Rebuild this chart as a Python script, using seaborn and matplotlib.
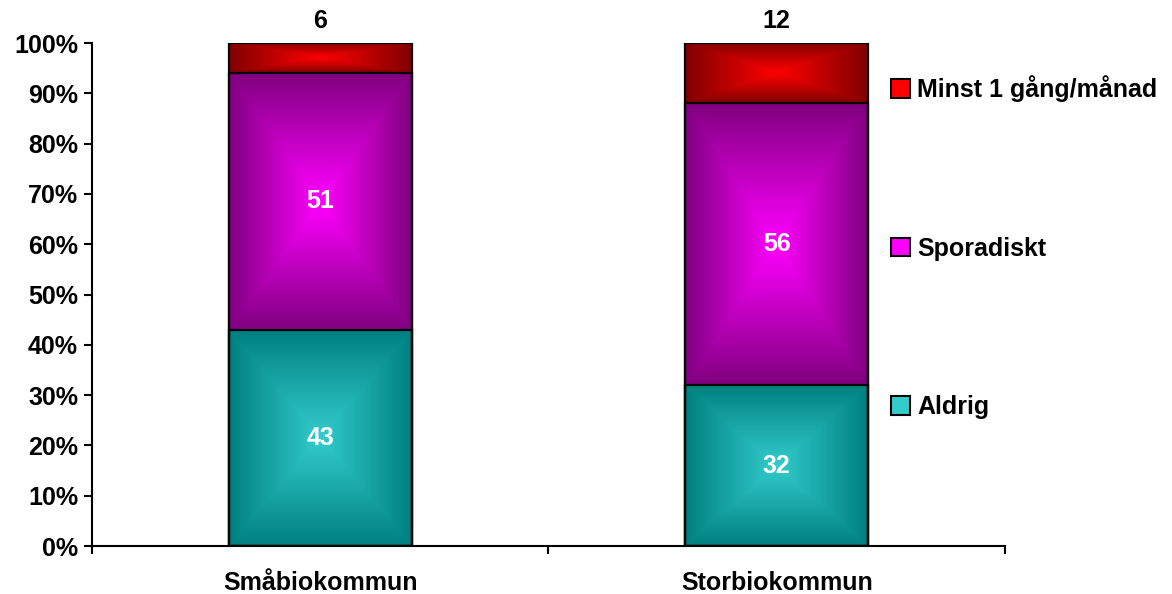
import numpy as np
import matplotlib
matplotlib.use('Agg')
import matplotlib.pyplot as plt
import seaborn as sns
from matplotlib.colors import to_rgb
from matplotlib.patches import Patch
from matplotlib.ticker import PercentFormatter

# Data
kommuner = ['Småbiokommun', 'Storbiokommun']
serier = ['Aldrig', 'Sporadiskt', 'Minst 1 gång/månad']
aldrig = [43, 32]
sporadiskt = [51, 56]
minst = [6, 12]

ljus = ['#33CCCC', '#FF00FF', '#FF0000']
mork = ['#008080', '#800080', '#800000']

sns.set_theme(style='white')
plt.rcParams['font.family'] = ['Liberation Sans', 'DejaVu Sans']
plt.rcParams['font.weight'] = 'bold'
plt.rcParams['text.color'] = 'black'
plt.rcParams['xtick.color'] = 'black'
plt.rcParams['ytick.color'] = 'black'


def gradient(c_mitt, c_kant, n=300):
    u = np.linspace(-1, 1, n)
    U, V = np.meshgrid(u, u)
    t = np.maximum(np.abs(U), np.abs(V))
    a = np.array(to_rgb(c_mitt))
    b = np.array(to_rgb(c_kant))
    return a + (b - a) * t[..., None]


fig = plt.figure(figsize=(11.72, 5.94), dpi=100)
ax = fig.add_axes([0.0785, 0.0808, 0.779, 0.8468])

varden = [aldrig, sporadiskt, minst]
kum = np.cumsum(np.array(varden), axis=0)
botten = np.vstack([np.zeros(len(kommuner)), kum[:-1]])

# staplade staplar: ritar kumulativa summor, störst först
for i in reversed(range(len(serier))):
    n_fore = len(ax.patches)
    sns.barplot(x=kommuner, y=kum[i], color=mork[i], saturation=1, width=0.4,
                edgecolor='black', linewidth=1.6, ax=ax)
    for j, p in enumerate(ax.patches[n_fore:]):
        p.set_facecolor('none')
        p.set_zorder(3)
        x0 = p.get_x()
        x1 = x0 + p.get_width()
        ax.imshow(gradient(ljus[i], mork[i]), extent=(x0, x1, botten[i][j], kum[i][j]),
                  aspect='auto', zorder=2, interpolation='bilinear')

ax.set_xlim(-0.5, 1.5)
ax.set_ylim(0, 100)

# etiketter
for j in range(len(kommuner)):
    for i in range(2):
        ax.text(j, botten[i][j] + varden[i][j] / 2, str(varden[i][j]), color='white',
                ha='center', va='center', fontsize=18, fontweight='bold', zorder=4)
    ax.text(j, 102, str(minst[j]), color='black', ha='center', va='bottom',
            fontsize=18, fontweight='bold', clip_on=False)

ax.yaxis.set_major_formatter(PercentFormatter(decimals=0))
ax.set_yticks(range(0, 101, 10))
ax.tick_params(axis='y', which='major', direction='out', length=6, width=1.5,
               labelsize=18, pad=4, left=True)
ax.set_xticks([-0.5, 0.5, 1.5], minor=True)
ax.tick_params(axis='x', which='major', length=0, labelsize=18, pad=18)
ax.tick_params(axis='x', which='minor', direction='out', length=6, width=1.5,
               bottom=True)
for lbl in ax.get_xticklabels() + ax.get_yticklabels():
    lbl.set_fontweight('bold')
    lbl.set_color('black')

sns.despine(ax=ax)
for s in ['left', 'bottom']:
    ax.spines[s].set_color('black')
    ax.spines[s].set_linewidth(1.5)
ax.set_xlabel('')
ax.set_ylabel('')

handles = [Patch(facecolor=ljus[i], edgecolor='black', linewidth=1.5, label=serier[i])
           for i in reversed(range(len(serier)))]
fig.legend(handles=handles, loc='upper left', bbox_to_anchor=(0.741, 0.911),
           frameon=False, labelspacing=5.38, handlelength=0.75,
           handleheight=0.75, handletextpad=0.3, prop={'weight': 'bold', 'size': 18})

fig.savefig('out.png', dpi=100)
